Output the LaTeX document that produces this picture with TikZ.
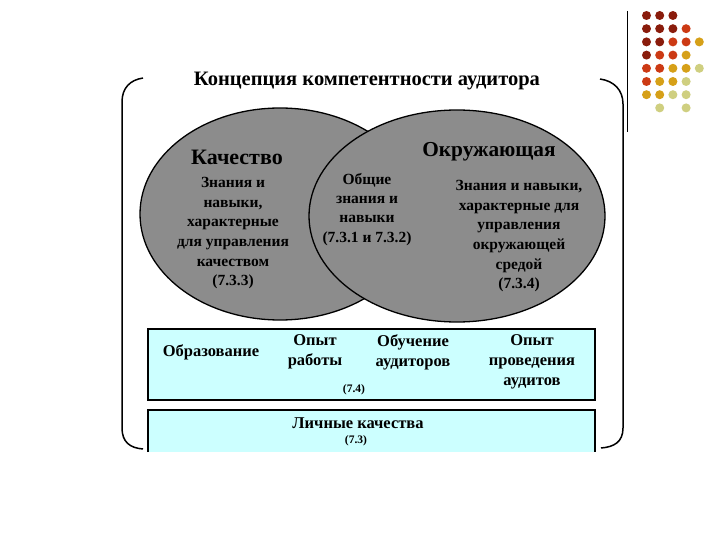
\documentclass[tikz,border=0pt]{standalone}
\usepackage{fontspec}
\setmainfont{Liberation Serif}
\definecolor{dk}{HTML}{8A1C0C}
\definecolor{orr}{HTML}{CC3A14}
\definecolor{gld}{HTML}{D6A018}
\definecolor{olv}{HTML}{CFCF80}
\definecolor{ellg}{HTML}{8C8C8C}
\definecolor{boxc}{HTML}{CCFFFF}
\begin{document}
\begin{tikzpicture}[x=1pt,y=-1pt,
  dot/.style={circle,inner sep=0pt,minimum size=9pt},
  ell/.style={draw=black,line width=1.3pt,fill=ellg},
  bx/.style={fill=boxc},
  head/.style={font=\fontsize{20.5}{24}\selectfont\bfseries,inner sep=0pt},
  txt/.style={font=\fontsize{15.5}{19.7}\selectfont\bfseries,align=center,inner sep=0pt},
  btxt/.style={font=\fontsize{16.5}{20}\selectfont\bfseries,align=center,inner sep=0pt},
  sm/.style={font=\fontsize{11.5}{13}\selectfont\bfseries,inner sep=0pt}]
\useasboundingbox (0,0) rectangle (720,540);
\fill[white] (0,0) rectangle (720,540);
% decorative dots
\foreach \c/\r/\col in {0/0/dk,1/0/dk,2/0/dk,
  0/1/dk,1/1/dk,2/1/dk,3/1/orr,
  0/2/dk,1/2/dk,2/2/orr,3/2/orr,4/2/gld,
  0/3/dk,1/3/orr,2/3/orr,3/3/gld,
  0/4/orr,1/4/orr,2/4/gld,3/4/gld,4/4/olv,
  0/5/orr,1/5/gld,2/5/gld,3/5/olv,
  0/6/gld,1/6/gld,2/6/olv,3/6/olv,
  1/7/olv,3/7/olv}
  \node[dot,fill=\col] (d\c\r) at ({646.5+13.2*\c},{15.5+13.2*\r}) {};
\draw[line width=0.9pt] (627,11) -- (627,132);
% outer brackets
\draw[line width=1.5pt] (143,78) .. controls (130,80) and (122,88) .. (122,102) -- (122,428) .. controls (122,442) and (130,448) .. (143,449);
\draw[line width=1.5pt] (600,79) .. controls (614,81) and (623,90) .. (623,104) -- (623,428) .. controls (623,442) and (614,447) .. (601,448);
% title
\node[head] (title) at (367,81) {Концепция компетентности аудитора};
% ellipses
\path[ell] (280,214) ellipse [x radius=140, y radius=106];
\path[ell] (457,216) ellipse [x radius=148, y radius=106];
\node[head,font=\fontsize{22}{24}\selectfont\bfseries] (q) at (237,157) {Качество};
\node[head,font=\fontsize{21.3}{24}\selectfont\bfseries] (o) at (489,152) {Окружающая};
\node[txt,anchor=north] (qt) at (233,177) {Знания и\\навыки,\\характерные\\для управления\\качеством\\(7.3.3)};
\node[txt,anchor=north,font=\fontsize{15.5}{19.3}\selectfont\bfseries] (mt) at (367,173) {Общие\\знания и\\навыки\\(7.3.1 и 7.3.2)};
\node[txt,anchor=north] (ot) at (519,180) {Знания и навыки,\\характерные для\\управления\\окружающей\\средой\\(7.3.4)};
% boxes
\path[bx] (148,329) rectangle (595,400);
\draw[line width=1.6pt] (148,329) rectangle (595,400);
\path[bx] (148,410) rectangle (595,452);
\draw[line width=1.6pt] (148,452) -- (148,410) -- (595,410) -- (595,452);
\node[btxt] (e1) at (211,352) {Образование};
\node[btxt] (e2) at (315,352) {Опыт\\работы};
\node[btxt] (e3) at (413,352) {Обучение\\аудиторов};
\node[btxt] (e4) at (532,362) {Опыт\\проведения\\аудитов};
\node[sm] (e5) at (354,390) {(7.4)};
\node[btxt] (p1) at (358,423) {Личные качества};
\node[sm] (p2) at (356,441) {(7.3)};
\end{tikzpicture}
\end{document}
